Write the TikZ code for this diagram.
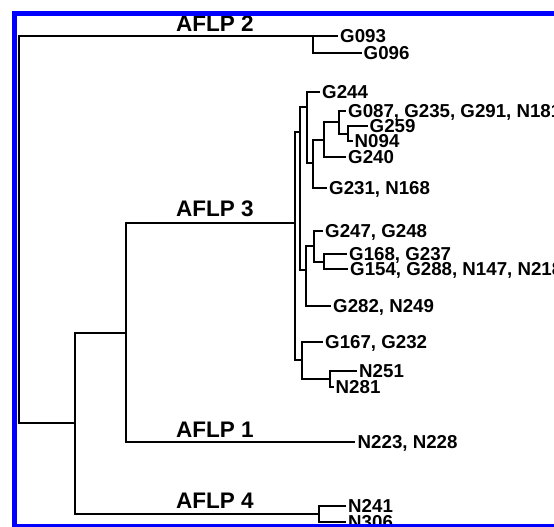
\documentclass[tikz,border=0pt]{standalone}
\usepackage{fontspec}
\setmainfont{Liberation Sans}
\begin{document}
\begin{tikzpicture}[x=1pt,y=-1pt,
  br/.style={line width=2pt,line join=miter,black},
  frame/.style={line width=5pt,draw={rgb,255:red,0;green,0;blue,255}},
  lbl/.style={inner sep=0pt,anchor=base west,font=\bfseries\fontsize{18.7}{20}\selectfont},
  grp/.style={inner sep=0pt,anchor=base west,font=\bfseries\fontsize{22.5}{24}\selectfont}]
\useasboundingbox (0,0) rectangle (554,527);
\clip (0,0) rectangle (554,527);
% internal nodes
\coordinate (root) at (18.5,229);
\coordinate (n2) at (313,36);
\coordinate (l2) at (75,423);
\coordinate (l1) at (126,333);
\coordinate (r3) at (295,223);
\coordinate (p1) at (300,132);
\coordinate (s1) at (306.5,107);
\coordinate (s2) at (313,163);
\coordinate (s3) at (324,140);
\coordinate (s4) at (339,122);
\coordinate (s5) at (348,133.5);
\coordinate (s8) at (306,270);
\coordinate (s6) at (314,246);
\coordinate (s7) at (324,261.5);
\coordinate (s9) at (302,360);
\coordinate (s10) at (330,379);
\coordinate (n4) at (319,514);
% leaf ends
\coordinate (g093) at (338,36);
\coordinate (g096) at (362,53);
\coordinate (g244) at (320,92);
\coordinate (g087) at (346,111);
\coordinate (g259) at (368,126);
\coordinate (n094) at (353,141);
\coordinate (g240) at (346,157);
\coordinate (g231) at (327,188);
\coordinate (g247) at (323,231);
\coordinate (g168) at (347,254);
\coordinate (g154) at (348,269);
\coordinate (g282) at (331,306);
\coordinate (g167) at (323,342);
\coordinate (n251) at (357,371);
\coordinate (n281) at (334,387);
\coordinate (n223) at (355,442);
\coordinate (n241) at (346,506);
\coordinate (n306) at (346,522);
% brackets
\draw[br] (n2) -| (root |- l2) -- (l2);
\draw[br] (g093) -| (n2 |- g096) -- (g096);
\draw[br] (l1) -| (l2 |- n4) -- (n4);
\draw[br] (r3) -| (l1 |- n223) -- (n223);
\draw[br] (p1) -| (r3 |- s9) -- (s9);
\draw[br] (s1) -| (p1 |- s8) -- (s8);
\draw[br] (g244) -| (s1 |- s2) -- (s2);
\draw[br] (s3) -| (s2 |- g231) -- (g231);
\draw[br] (s4) -| (s3 |- g240) -- (g240);
\draw[br] (g087) -| (s4 |- s5) -- (s5);
\draw[br] (g259) -| (s5 |- n094) -- (n094);
\draw[br] (s6) -| (s8 |- g282) -- (g282);
\draw[br] (g247) -| (s6 |- s7) -- (s7);
\draw[br] (g168) -| (s7 |- g154) -- (g154);
\draw[br] (g167) -| (s9 |- s10) -- (s10);
\draw[br] (n251) -| (s10 |- n281) -- (n281);
\draw[br] (n241) -| (n4 |- n306) -- (n306);
% leaf labels
\node[lbl] (tg093) at ([shift={(2,6.7)}]g093) {G093};
\node[lbl] (tg096) at ([shift={(1.5,6.7)}]g096) {G096};
\node[lbl] (tg244) at ([shift={(2,6.7)}]g244) {G244};
\node[lbl] (tg087) at ([shift={(2,6.7)}]g087) {G087, G235, G291, N181};
\node[lbl] (tg259) at ([shift={(1.5,6.7)}]g259) {G259};
\node[lbl] (tn094) at ([shift={(1.5,6.7)}]n094) {N094};
\node[lbl] (tg240) at ([shift={(2,6.7)}]g240) {G240};
\node[lbl] (tg231) at ([shift={(2,6.7)}]g231) {G231, N168};
\node[lbl] (tg247) at ([shift={(2,6.7)}]g247) {G247, G248};
\node[lbl] (tg168) at ([shift={(2,6.7)}]g168) {G168, G237};
\node[lbl] (tg154) at ([shift={(2,6.7)}]g154) {G154, G288, N147, N218};
\node[lbl] (tg282) at ([shift={(2,6.7)}]g282) {G282, N249};
\node[lbl] (tg167) at ([shift={(2,6.7)}]g167) {G167, G232};
\node[lbl] (tn251) at ([shift={(2,6.7)}]n251) {N251};
\node[lbl] (tn281) at ([shift={(1.5,6.7)}]n281) {N281};
\node[lbl] (tn223) at ([shift={(2.5,6.7)}]n223) {N223, N228};
\node[lbl] (tn241) at ([shift={(2,6.7)}]n241) {N241};
\node[lbl] (tn306) at ([shift={(2,6.7)}]n306) {N306};
% group labels
\node[grp] (a2) at (176,32) {AFLP 2};
\node[grp] (a3) at (176,216) {AFLP 3};
\node[grp] (a1) at (176,437) {AFLP 1};
\node[grp] (a4) at (176,508) {AFLP 4};
% frame
\draw[frame] (14.2,13.5) rectangle (575,526.8);
\end{tikzpicture}
\end{document}
